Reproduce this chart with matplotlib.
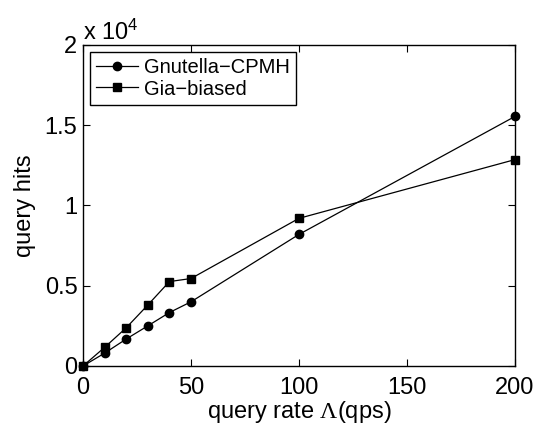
import matplotlib
import matplotlib.pyplot as plt

matplotlib.use('Agg')
plt.rcParams['font.family'] = ['Liberation Sans', 'DejaVu Sans']
plt.rcParams['mathtext.fontset'] = 'custom'
plt.rcParams['mathtext.rm'] = 'Liberation Serif'

rate = [0, 10, 20, 30, 40, 50, 100, 200]
gnutella = [0, 800, 1680, 2500, 3330, 4000, 8200, 15550]
gia = [0, 1160, 2380, 3800, 5260, 5450, 9200, 12860]

fig = plt.figure(figsize=(5.39, 4.33), dpi=100)
ax = fig.add_axes([83 / 539, 1 - 366 / 433, 432 / 539, 321 / 433])
ax.plot(rate, gnutella, 'k-o', lw=0.9, ms=6, label='Gnutella\u2212CPMH', clip_on=False, zorder=3)
ax.plot(rate, gia, 'k-s', lw=0.9, ms=5.5, label='Gia\u2212biased', clip_on=False, zorder=2)
ax.set_xlim(0, 200)
ax.set_ylim(0, 20000)
ax.set_xticks([0, 50, 100, 150, 200])
ax.set_yticks([0, 5000, 10000, 15000, 20000])
ax.set_yticklabels(['0', '0.5', '1', '1.5', '2'])
ax.tick_params(direction='in', top=True, right=True, labelsize=17, length=5)
ax.tick_params(axis='x', pad=8)
ax.tick_params(axis='y', pad=4)
for s in ax.spines.values():
    s.set_linewidth(1)
ax.text(0, 1.016, 'x 10$\\mathregular{^4}$', transform=ax.transAxes, fontsize=17, va='baseline')
ax.set_xlabel('query rate $\\mathrm{\\Lambda}$(qps)', fontsize=17, labelpad=0)
ax.set_ylabel('query hits', fontsize=17, labelpad=6)
leg = ax.legend(loc='upper left', fontsize=14.5, fancybox=False, edgecolor='k',
                framealpha=1, handlelength=2.1, handletextpad=0.3,
                labelspacing=0.12, borderpad=0.3, borderaxespad=0.35)
leg.get_frame().set_linewidth(1)
fig.savefig('out.png')
